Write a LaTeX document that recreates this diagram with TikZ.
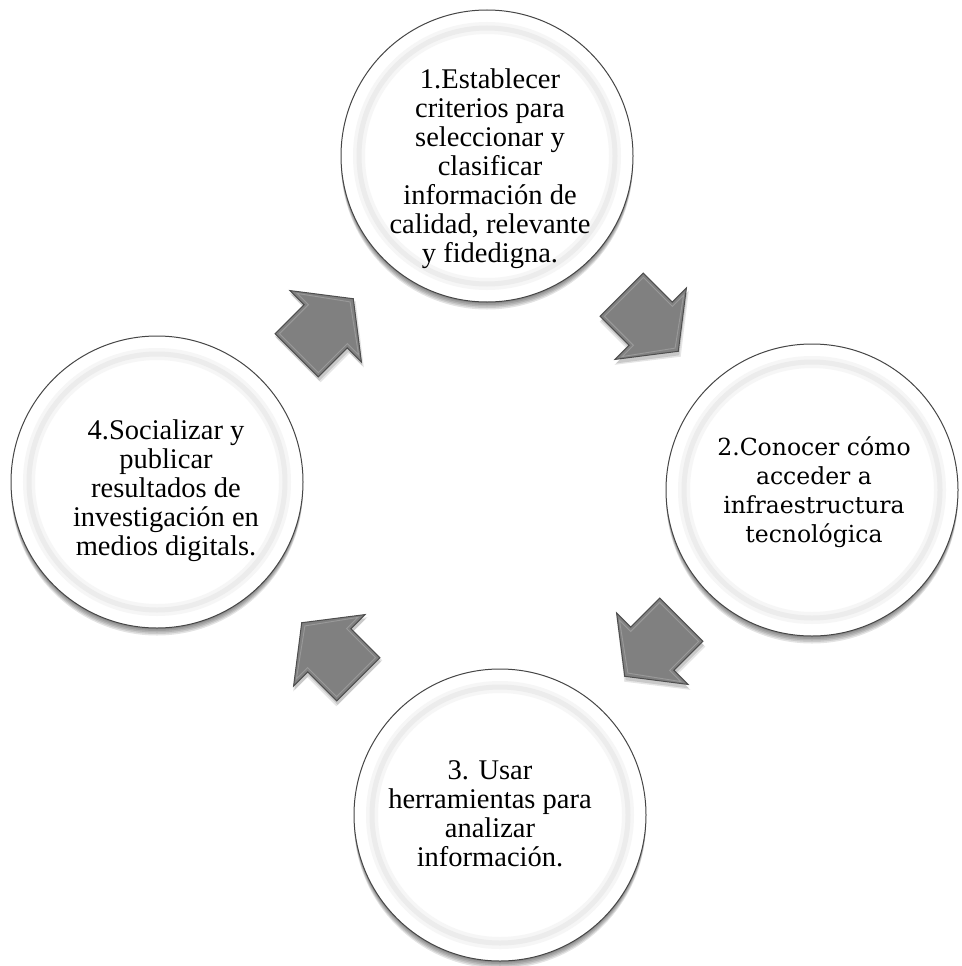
\documentclass[tikz,border=0pt]{standalone}
\usepackage{fontspec}
\setmainfont{Liberation Serif}
\newfontfamily\slabfont{DejaVu Serif}
\usetikzlibrary{calc}
\definecolor{arrowgray}{RGB}{128,128,128}
\definecolor{arrowedge}{RGB}{78,78,78}
\definecolor{arrowhi}{RGB}{160,160,160}
\definecolor{rimgray}{RGB}{70,70,70}
\definecolor{bevelsoft}{RGB}{246,246,246}
\definecolor{bevelgray}{RGB}{236,236,236}
\begin{document}
\begin{tikzpicture}[x=1pt,y=-1pt,
  shadowlayer/.style={preaction={fill=black, opacity=0.11, transform canvas={yshift=-#1pt}}},
  bubble/.style={circle, minimum size=292pt, inner sep=0pt, fill=white, draw=rimgray, line width=1pt,
    shadowlayer=1.5, shadowlayer=3, shadowlayer=4.5, shadowlayer=6, shadowlayer=7.5,
    path picture={\draw[bevelsoft, line width=12pt] (path picture bounding box.center) circle (128pt);
                  \draw[bevelgray, line width=5pt] (path picture bounding box.center) circle (128pt);}},
  txt/.style={align=center, font=\fontsize{28.5}{29}\selectfont, inner sep=0pt},
  txtb/.style={align=center, font=\slabfont\fontsize{23.5}{29}\selectfont, inner sep=0pt},
  arrowshadow/.pic={
    \fill[black, opacity=0.10] (-40,32.5) -- (1,32.5) -- (1,52.5) -- (42,0) -- (1,-52.5) -- (1,-32.5) -- (-40,-32.5) -- cycle;
    \fill[black, opacity=0.12] (-40,30.5) -- (1,30.5) -- (1,50.5) -- (40,0) -- (1,-50.5) -- (1,-30.5) -- (-40,-30.5) -- cycle;
  },
  arrowbody/.pic={
    \filldraw[fill=arrowgray, draw=arrowedge, line width=1pt, line join=miter]
      (-40,30.5) -- (1,30.5) -- (1,50.5) -- (40,0) -- (1,-50.5) -- (1,-30.5) -- (-40,-30.5) -- cycle;
    \draw[arrowhi, line width=0.9pt, opacity=0.8]
      (-37,27.5) -- (4,27.5) -- (4,43.5) -- (35.5,0) -- (4,-43.5) -- (4,-27.5) -- (-37,-27.5) -- cycle;
  }
]
\useasboundingbox (0,0) rectangle (961,966);
\fill[white] (0,0) rectangle (961,966);

% arrow positions
\coordinate (m1) at (650,323);
\coordinate (m2) at (653,648);
\coordinate (m3) at (330,651);
\coordinate (m4) at (325,327);

% circles
\node[bubble] (c1) at (487,156) {};
\node[bubble] (c2) at (812,490) {};
\node[bubble] (c3) at (500,815) {};
\node[bubble] (c4) at (157,482) {};

% texts
\node[txt] (t1) at (490,169) {1.Establecer\\criterios para\\seleccionar y\\clasificar\\información de\\calidad, relevante\\y fidedigna.};
\node[txtb] (t2) at (814,492) {2.Conocer cómo\\acceder a\\infraestructura\\tecnológica};
\node[txt] (t3) at (490,814) {3. Usar\\herramientas para\\analizar\\información.};
\node[txt] (t4) at (166,491) {4.Socializar y\\publicar\\resultados de\\investigación en\\medios digitals.};

% block arrows (cycle 1 -> 2 -> 3 -> 4 -> 1)
\pic[shift={(1,4)}, rotate=-45] (s1) at (m1) {arrowshadow};
\pic[shift={(1,4)}, rotate=-135] (s2) at (m2) {arrowshadow};
\pic[shift={(1,4)}, rotate=135] (s3) at (m3) {arrowshadow};
\pic[shift={(1,4)}, rotate=45] (s4) at (m4) {arrowshadow};
\pic[rotate=-45] (a1) at (m1) {arrowbody};
\pic[rotate=-135] (a2) at (m2) {arrowbody};
\pic[rotate=135] (a3) at (m3) {arrowbody};
\pic[rotate=45] (a4) at (m4) {arrowbody};
\end{tikzpicture}
\end{document}
